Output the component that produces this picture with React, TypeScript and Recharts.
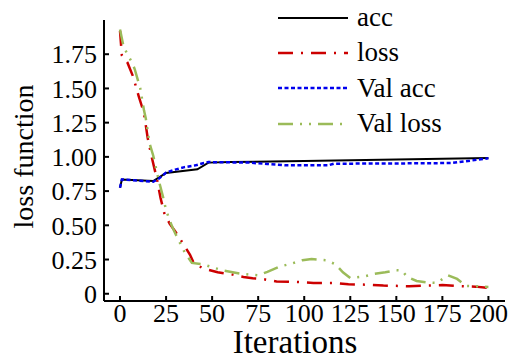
import React from "react"
import { LineChart, Line, XAxis, YAxis, Legend, Label } from "recharts"

const FONT = "'Liberation Serif', 'Times New Roman', serif"

const xTicks = [0, 25, 50, 75, 100, 125, 150, 175, 200]
const yTicks = [0, 0.25, 0.5, 0.75, 1.0, 1.25, 1.5, 1.75]

const accIter = [0, 1, 18, 21, 25, 42, 48, 60, 100, 150, 200]
const accVal = [0.775, 0.835, 0.823, 0.848, 0.882, 0.909, 0.958, 0.962, 0.969, 0.98, 0.992]

const lossIter = [0, 1, 4, 7, 10, 13, 15, 17, 20, 22, 24, 27, 30, 35, 38, 40, 45, 53, 60, 67, 72, 78, 85, 96, 105, 116, 124, 135, 143, 157, 168, 175, 182, 193, 200]
const lossVal = [1.92, 1.74, 1.69, 1.59, 1.45, 1.32, 1.14, 1.01, 0.84, 0.7, 0.59, 0.51, 0.455, 0.35, 0.285, 0.225, 0.186, 0.157, 0.143, 0.122, 0.113, 0.106, 0.09, 0.086, 0.079, 0.078, 0.069, 0.066, 0.06, 0.055, 0.06, 0.064, 0.057, 0.052, 0.042]

const valAccIter = [0, 1, 18, 21, 25, 30, 35, 41, 44, 48, 70, 80, 90, 113, 116, 150, 180, 190, 200]
const valAccVal = [0.775, 0.835, 0.818, 0.84, 0.885, 0.907, 0.925, 0.938, 0.95, 0.962, 0.958, 0.948, 0.938, 0.938, 0.95, 0.952, 0.955, 0.972, 0.99]

const valLossIter = [0, 2, 4.5, 7, 8, 11, 13, 14, 16, 18, 19, 21, 23.5, 25, 28, 30, 35, 39, 45, 51, 56, 65, 70, 75, 80, 87, 93, 99, 104, 112, 117, 121, 125, 133, 138, 144, 150, 153, 156, 161, 167, 172, 178, 183, 188, 193, 200]
const valLossVal = [1.93, 1.8, 1.74, 1.675, 1.64, 1.5, 1.34, 1.28, 1.1, 1.01, 0.95, 0.83, 0.7, 0.61, 0.5, 0.44, 0.305, 0.225, 0.215, 0.19, 0.17, 0.147, 0.14, 0.135, 0.16, 0.2, 0.22, 0.245, 0.254, 0.245, 0.215, 0.157, 0.115, 0.128, 0.145, 0.157, 0.172, 0.17, 0.122, 0.093, 0.082, 0.079, 0.135, 0.108, 0.057, 0.055, 0.05]

const toPoints = (xs: number[], ys: number[]) => xs.map((x, i) => ({ x, y: ys[i] }))

const series = [
  { name: "acc", data: toPoints(accIter, accVal), color: "#000000", dash: undefined, width: 2 },
  { name: "loss", data: toPoints(lossIter, lossVal), color: "#cc0000", dash: "15 8 2 8", width: 2.5 },
  { name: "Val acc", data: toPoints(valAccIter, valAccVal), color: "#0000ee", dash: "4 2.5", width: 2.5 },
  { name: "Val loss", data: toPoints(valLossIter, valLossVal), color: "#9bbb59", dash: "15 7 2 7 2 7", width: 2.5 },
]

const LegendContent = () => (
  <div>
    {series.map((s) => (
      <div key={s.name} style={{ display: "flex", alignItems: "center", height: 35.3 }}>
        <svg width={70} height={6}>
          <line x1={0} x2={70} y1={3} y2={3} stroke={s.color} strokeWidth={s.width} strokeDasharray={s.dash} />
        </svg>
        <span style={{ marginLeft: 9, fontFamily: FONT, fontSize: 27, lineHeight: 1, color: "#000" }}>{s.name}</span>
      </div>
    ))}
  </div>
)

export default function App() {
  return (
    <div>
      <style>{"body{margin:0}"}</style>
      <LineChart width={515} height={360} margin={{ top: 20, right: 10, bottom: 0, left: 0 }}>
        <XAxis
          dataKey="x"
          type="number"
          domain={[-8.7, 209]}
          ticks={xTicks}
          interval={0}
          height={59}
          tickSize={-5}
          tickMargin={8}
          axisLine={{ stroke: "#000", strokeWidth: 2 }}
          tickLine={{ stroke: "#000", strokeWidth: 2 }}
          tick={{ fill: "#000", fontSize: 26, fontFamily: FONT }}
        >
          <Label
            content={(props: any) => {
              const vb = props.viewBox
              return (
                <text x={vb.x + vb.width / 2 - 9.5} y={353} textAnchor="middle" fontSize={33} fontFamily={FONT} fill="#000">
                  Iterations
                </text>
              )
            }}
          />
        </XAxis>
        <YAxis
          type="number"
          domain={[-0.053, 2]}
          ticks={yTicks}
          interval={0}
          width={104}
          tickSize={-5}
          tickMargin={12}
          tickFormatter={(v: number) => (v === 0 ? "0" : v.toFixed(2))}
          axisLine={{ stroke: "#000", strokeWidth: 2 }}
          tickLine={{ stroke: "#000", strokeWidth: 2 }}
          tick={{ fill: "#000", fontSize: 26, fontFamily: FONT }}
        >
          <Label
            content={(props: any) => {
              const vb = props.viewBox
              const cx = 33
              const cy = vb.y + vb.height / 2 - 4
              return (
                <text x={cx} y={cy} transform={`rotate(-90 ${cx} ${cy})`} textAnchor="middle" fontSize={28} fontFamily={FONT} fill="#000">
                  loss function
                </text>
              )
            }}
          />
        </YAxis>
        <Legend
          content={<LegendContent />}
          layout="vertical"
          verticalAlign="middle"
          align="center"
          wrapperStyle={{ top: 0, left: 278, width: 237 }}
        />
        {series.map((s) => (
          <Line
            key={s.name}
            data={s.data}
            dataKey="y"
            name={s.name}
            type="linear"
            stroke={s.color}
            strokeWidth={s.width}
            strokeDasharray={s.dash}
            dot={false}
            activeDot={false}
            isAnimationActive={false}
          />
        ))}
      </LineChart>
    </div>
  )
}
